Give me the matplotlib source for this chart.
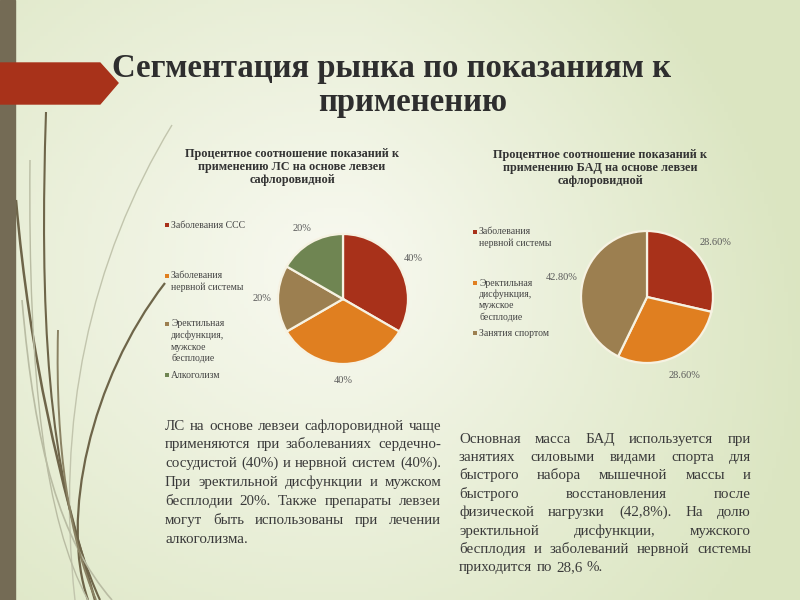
import numpy as np
import matplotlib
matplotlib.use("Agg")
import matplotlib.pyplot as plt
from matplotlib.patches import Polygon, Rectangle, PathPatch
from matplotlib.path import Path

plt.rcParams['font.family'] = ['Liberation Serif', 'DejaVu Serif']

# ---------------------------------------------------------------------------
# data
# ---------------------------------------------------------------------------
title_lines = ["Сегментация рынка по показаниям к", "применению"]

ls_title = "Процентное соотношение показаний к\nприменению ЛС на основе левзеи\nсафлоровидной"
ls_labels = ["Заболевания ССС",
             "Заболевания\nнервной системы",
             "Эректильная\nдисфункция,\nмужское\nбесплодие",
             "Алкоголизм"]
ls_values = [40, 40, 20, 20]

bad_title = "Процентное соотношение показаний к\nприменению БАД на основе левзеи\nсафлоровидной"
bad_labels = ["Заболевания\nнервной системы",
              "Эректильная\nдисфункция,\nмужское\nбесплодие",
              "Занятия спортом"]
bad_values = [28.6, 28.6, 42.8]

ls_text = [
    "ЛС на основе левзеи сафлоровидной чаще",
    "применяются при заболеваниях сердечно-",
    "сосудистой (40%) и нервной систем (40%).",
    "При эректильной дисфункции и мужском",
    "бесплодии 20%. Также препараты левзеи",
    "могут быть использованы при лечении",
    "алкоголизма.",
]
bad_text = [
    "Основная масса БАД используется при",
    "занятиях силовыми видами спорта для",
    "быстрого набора мышечной массы и",
    "быстрого восстановления после",
    "физической нагрузки (42,8%). На долю",
    "эректильной дисфункции, мужского",
    "бесплодия и заболеваний нервной системы",
    "приходится по 28,6 %.",
]

RED, ORANGE, BROWN, GREEN = "#a8311a", "#e07f20", "#9c7f50", "#6f8552"
ls_colors = [RED, ORANGE, BROWN, GREEN]
bad_colors = [RED, ORANGE, BROWN]

W, H = 800, 600


def Y(y):
    # screen y (from top) -> axes y (from bottom)
    return H - y


fig = plt.figure(figsize=(8, 6), dpi=100)
ax = fig.add_axes([0, 0, 1, 1])
renderer = fig.canvas.get_renderer()

# background gradient
xx, yy = np.meshgrid(np.linspace(0, 1, 200), np.linspace(0, 1, 150))
d = np.sqrt(((xx - 0.42) / 0.75) ** 2 + ((yy - 0.55) / 0.85) ** 2)
t = np.clip(d + 0.45 * np.clip(xx - 0.45, 0, None) * (0.4 + yy), 0, 1)
c0 = np.array([0.975, 0.978, 0.945])
c1 = np.array([0.86, 0.90, 0.76])
bg = c0 + (c1 - c0) * t[..., None]
ax.imshow(bg, extent=(0, W, H, 0), origin="upper", zorder=0, aspect="auto")

# decorative grass strokes (cubic curves, screen coords)
strokes = [
    ([(46, 112), (40, 300), (45, 480), (100, 600)], "#6e6549", 1.5),
    ([(16, 200), (30, 360), (60, 480), (95, 600)], "#6e6549", 1.8),
    ([(172, 125), (90, 260), (55, 420), (75, 600)], "#c2c5ad", 1.0),
    ([(165, 283), (90, 380), (60, 520), (88, 600)], "#6e6549", 1.6),
    ([(30, 160), (28, 380), (45, 520), (88, 600)], "#b9bca3", 1.0),
    ([(22, 300), (35, 450), (60, 540), (112, 600)], "#b9bca3", 1.2),
    ([(58, 330), (55, 450), (70, 540), (96, 600)], "#8a8263", 1.4),
]
for pts, col, lw in strokes:
    path = Path([(x, Y(y)) for x, y in pts],
                [Path.MOVETO, Path.CURVE4, Path.CURVE4, Path.CURVE4])
    ax.add_patch(PathPatch(path, facecolor="none", edgecolor=col, lw=lw, zorder=1))

# left bar and title arrow
ax.add_patch(Rectangle((0, 0), 15, H, color="#746b55", zorder=2))
ax.add_patch(Polygon([(0, Y(63)), (100, Y(63)), (118, Y(83)), (100, Y(104)), (0, Y(104))],
                     closed=True, color="#a8321a", zorder=3))

# title
ax.text(392, Y(68), title_lines[0], fontsize=23.6, fontweight="bold",
        color="#2e2e2e", ha="center", va="center", zorder=4)
ax.text(413, Y(103), title_lines[1], fontsize=23.6, fontweight="bold",
        color="#2e2e2e", ha="center", va="center", zorder=4)

# chart titles
ax.text(292, Y(167), ls_title, fontsize=8.8, fontweight="bold", color="#333333",
        ha="center", va="center", linespacing=1.15, zorder=4)
ax.text(600, Y(168), bad_title, fontsize=8.8, fontweight="bold", color="#333333",
        ha="center", va="center", linespacing=1.15, zorder=4)


def draw_pie(values, colors, center, radius, fmt, ld):
    wedges, texts = ax.pie(values, colors=colors, startangle=90, counterclock=False,
                           center=center, radius=radius,
                           labels=[fmt.format(v) for v in values], labeldistance=ld,
                           wedgeprops=dict(edgecolor="#f6f2e2", linewidth=1.6),
                           textprops=dict(fontsize=7.5, color="#5a5a5a"))
    for w in wedges:
        w.set_zorder(5)
    for tx in texts:
        tx.set_ha("center")
        tx.set_zorder(6)
    return wedges


draw_pie(ls_values, ls_colors, (343, Y(299)), 65, "{:g}%", 1.25)
draw_pie(bad_values, bad_colors, (647, Y(297)), 66, "{:.2f}%", 1.32)


def draw_legend(labels, colors, x, tops, step=11.5):
    for lab, col, top in zip(labels, colors, tops):
        ax.scatter([x], [Y(top)], marker="s", s=7, color=col, zorder=6, linewidths=0)
        for j, part in enumerate(lab.split("\n")):
            ax.text(x + 4, Y(top + j * step), part, fontsize=7, color="#444444",
                    ha="left", va="center", zorder=6)


draw_legend(ls_labels, ls_colors, 167, [225, 276, 324, 375])
draw_legend(bad_labels, bad_colors, 475, [232, 283, 333])


def word_width(w, size):
    tx = ax.text(0, 0, w, fontsize=size)
    wd = tx.get_window_extent(renderer).width
    tx.remove()
    return wd


def fit_size(columns, min_gap=4.0, ref=10.0):
    # largest font size for which every justified line keeps a gap >= min_gap
    best = 99.0
    for lines, width in columns:
        for line in lines[:-1]:
            words = line.split()
            nat = sum(word_width(w, ref) for w in words)
            best = min(best, ref * (width - min_gap * (len(words) - 1)) / nat)
    return best


def justify(lines, x0, x1, y0, dy, size, color="#3a3a3a"):
    for i, line in enumerate(lines):
        y = Y(y0 + i * dy + size * 100 / 72 * 0.3)
        words = line.split()
        texts = [ax.text(0, y, w, fontsize=size, color=color, va="baseline", zorder=6)
                 for w in words]
        widths = [tx.get_window_extent(renderer).width for tx in texts]
        if i == len(lines) - 1 or len(words) < 2:
            gap = size * 100 / 72 * 0.28
        else:
            gap = (x1 - x0 - sum(widths)) / (len(words) - 1)
        x = x0
        for tx, wd in zip(texts, widths):
            tx.set_x(x)
            x += wd + gap


body_size = fit_size([(ls_text, 441 - 165), (bad_text, 751 - 459)])
justify(ls_text, 165, 441, 425, 18.9, body_size)
justify(bad_text, 459, 751, 438, 18.4, body_size)

ax.set_xlim(0, W)
ax.set_ylim(0, H)
ax.set_aspect("auto")
ax.axis("off")

fig.savefig("out.png", dpi=100)
